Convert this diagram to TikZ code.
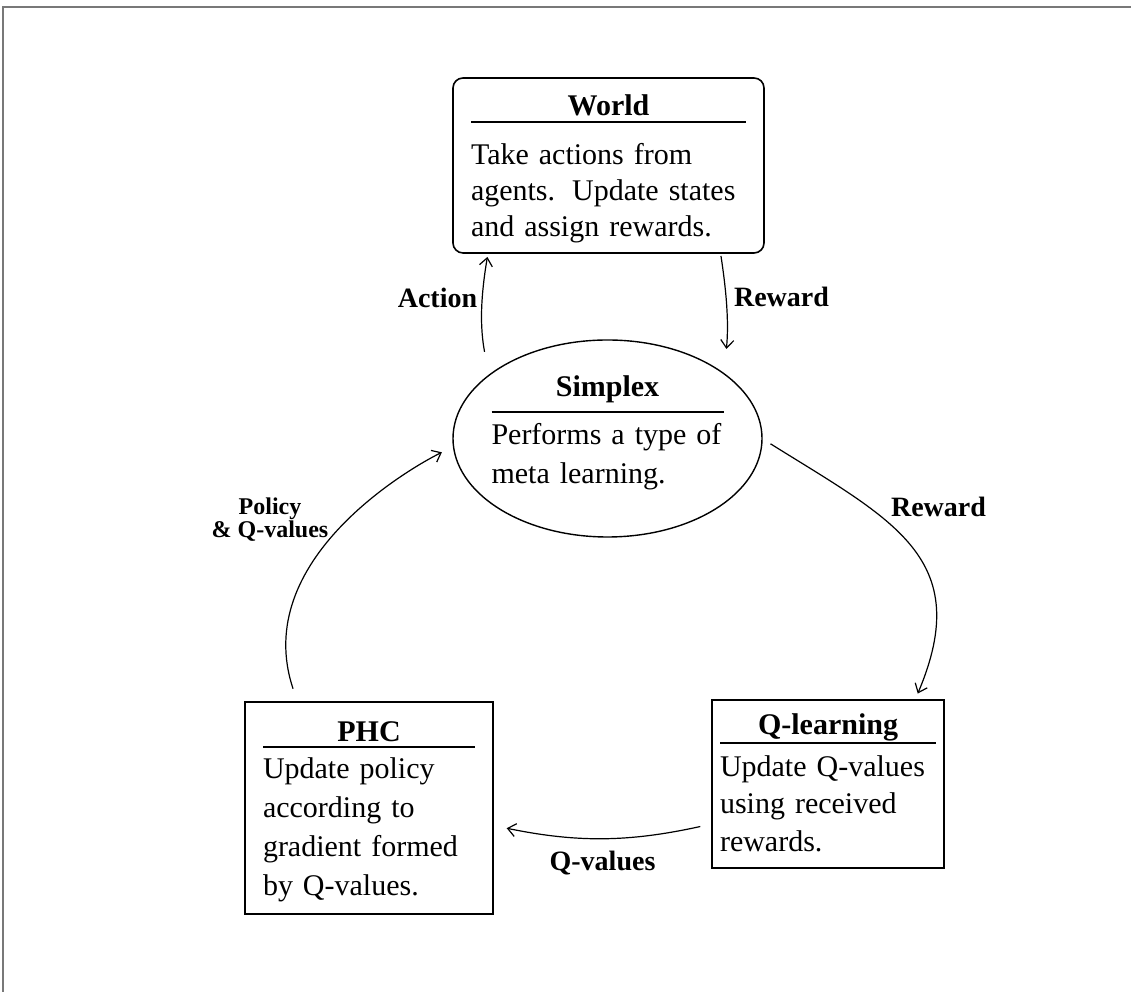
\documentclass[tikz,border=0pt]{standalone}
\usepackage{fontspec}
\setmainfont{Liberation Serif}
\usetikzlibrary{shapes.geometric, arrows.meta}
\definecolor{framegray}{RGB}{120,120,120}

% [extra room above title], title, gap above rule, gap below rule
\newcommand{\boxhead}[4][0pt]{%
  {\centering\fontsize{30}{32}\selectfont\bfseries\rule{0pt}{\dimexpr20pt+#1\relax}#2\par}%
  \vspace{#3}\hrule height 1.6pt\vspace{#4}}

\tikzset{
  agent/.style={draw, line width=1.6pt, align=left, inner sep=0pt, outer sep=0pt},
  conn/.style={->, line width=1.2pt},
  lbl/.style={font=\fontsize{28}{27}\selectfont\bfseries, inner sep=0pt},
  >={Straight Barb[length=8pt, width=13pt]}
}

\begin{document}
\begin{tikzpicture}[x=1pt, y=1pt]
\useasboundingbox (0,0) rectangle (1131,992);
\draw[framegray, line width=2pt] (1131,985) -- (3,985) -- (3,0);

\node (World) [agent, rounded corners=10pt, minimum width=311pt, minimum height=175pt, text width=275pt, font=\fontsize{30}{36}\selectfont] at (608.5,826.5) {\boxhead[8pt]{World}{5pt}{20.5pt}Take actions from\\agents.\hspace{17pt}Update states\\and assign rewards.};
\node (Simplex) [agent, ellipse, line width=1.4pt, inner xsep=-7pt, minimum width=309pt, minimum height=197pt, text width=232pt, font=\fontsize{30}{39}\selectfont] at (607.5,553.5) {\boxhead{Simplex}{8pt}{11pt}Performs a type of\\meta learning.\rule[-17.5pt]{0pt}{1pt}};
\node (PHC) [agent, minimum width=248pt, minimum height=212pt, text width=212pt, font=\fontsize{30}{39}\selectfont] at (369,184) {\boxhead[8pt]{PHC}{4pt}{10pt}Update policy\\according to\\gradient formed\\by Q-values.};
\node (Qlearn) [agent, minimum width=232pt, minimum height=168pt, text width=216pt, font=\fontsize{30}{37.5}\selectfont] at (828,208) {\boxhead{Q-learning}{1pt}{12pt}Update Q-values\\using received\\rewards.\rule[-3pt]{0pt}{1pt}};

\node (action) [lbl, anchor=base] at (437.5,684) {Action};
\node (rewardtop) [lbl, anchor=base] at (781.5,685) {Reward};
\node (rewardside) [lbl, anchor=base] at (938.5,475) {Reward};
\node (qvalues) [lbl, anchor=base] at (602.5,121) {Q-values};
\node (policy) [lbl, align=center, font=\fontsize{24}{23}\selectfont\bfseries] at (270,472) {Policy\\\& Q-values};

\draw (Simplex.152.4) edge[conn, bend left=10, shorten <=24pt, shorten >=4pt] (World.216.4);
\draw (World.322.9) edge[conn, bend left=7, shorten <=3pt, shorten >=25pt] (Simplex.29.5);
\draw (Simplex.east) edge[conn, out=-32, in=67, looseness=1.3, shorten <=10pt, shorten >=7pt] (Qlearn.44.7);
\draw (Qlearn.199.5) edge[conn, bend left=12, shorten <=12pt, shorten >=14pt] (PHC.352.2);
\draw[conn, shorten <=14pt, shorten >=13pt] (PHC.124.9) .. controls (250,432) and (410,524) .. (Simplex.183.2);
\end{tikzpicture}
\end{document}
